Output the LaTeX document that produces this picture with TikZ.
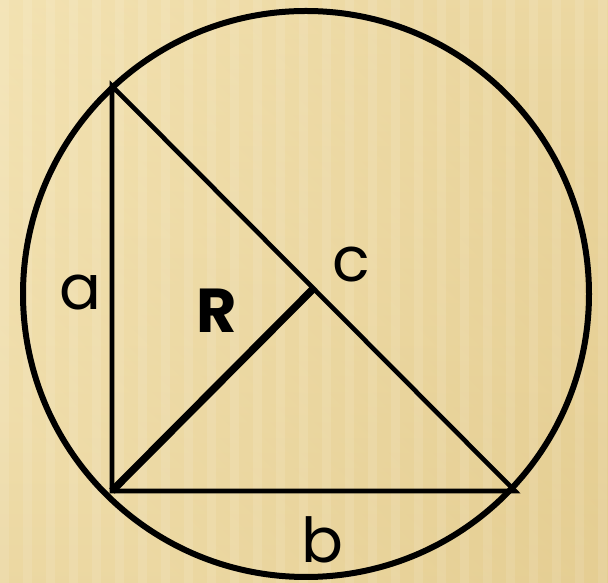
\documentclass[tikz,border=0pt]{standalone}
\usepackage{fontspec}
\setmainfont{Poppins}
\usepackage{tikz}
\definecolor{bgtop}{HTML}{F9EBC0}
\definecolor{bgbot}{HTML}{DFC584}
\tikzset{
  rim/.style={draw=black,line width=6pt},
  side/.style={draw=black,line width=4.6pt,line join=miter},
  rad/.style={draw=black,line width=7.5pt},
  lbl/.style={font=\fontsize{62}{62}\selectfont,inner sep=0pt},
}
\begin{document}
\begin{tikzpicture}[x=1pt,y=1pt]
  % background
  \useasboundingbox (0,0) rectangle (608,583);
  \shade[left color=bgtop,right color=bgbot,shading angle=135] (0,0) rectangle (608,583);
  \shade[top color=bgtop,bottom color=bgbot,opacity=0.5] (0,0) rectangle (608,583);
  \foreach \s in {0,23,...,600} \fill[white,opacity=0.1] (\s,0) rectangle ++(9,583);
  % circle and triangle
  \coordinate (ctr) at (306,289);
  \draw[rim] (ctr) circle (283);
  \coordinate (A) at (112,497);
  \coordinate (C) at (112,92);
  \coordinate (B) at (515,92);
  \coordinate (O) at (313.5,294.5);
  \draw[side] (A) -- (C) -- (B) -- cycle;
  \draw[rad] (C) -- (O);
  \node[lbl] (la) at (80,290) {a};
  \node[lbl] (lc) at (351,318) {c};
  \node[lbl] (lb) at (322,43) {b};
  \node[lbl,font=\fontsize{62}{62}\selectfont\bfseries] (lR) at (217,272) {R};
\end{tikzpicture}
\end{document}
